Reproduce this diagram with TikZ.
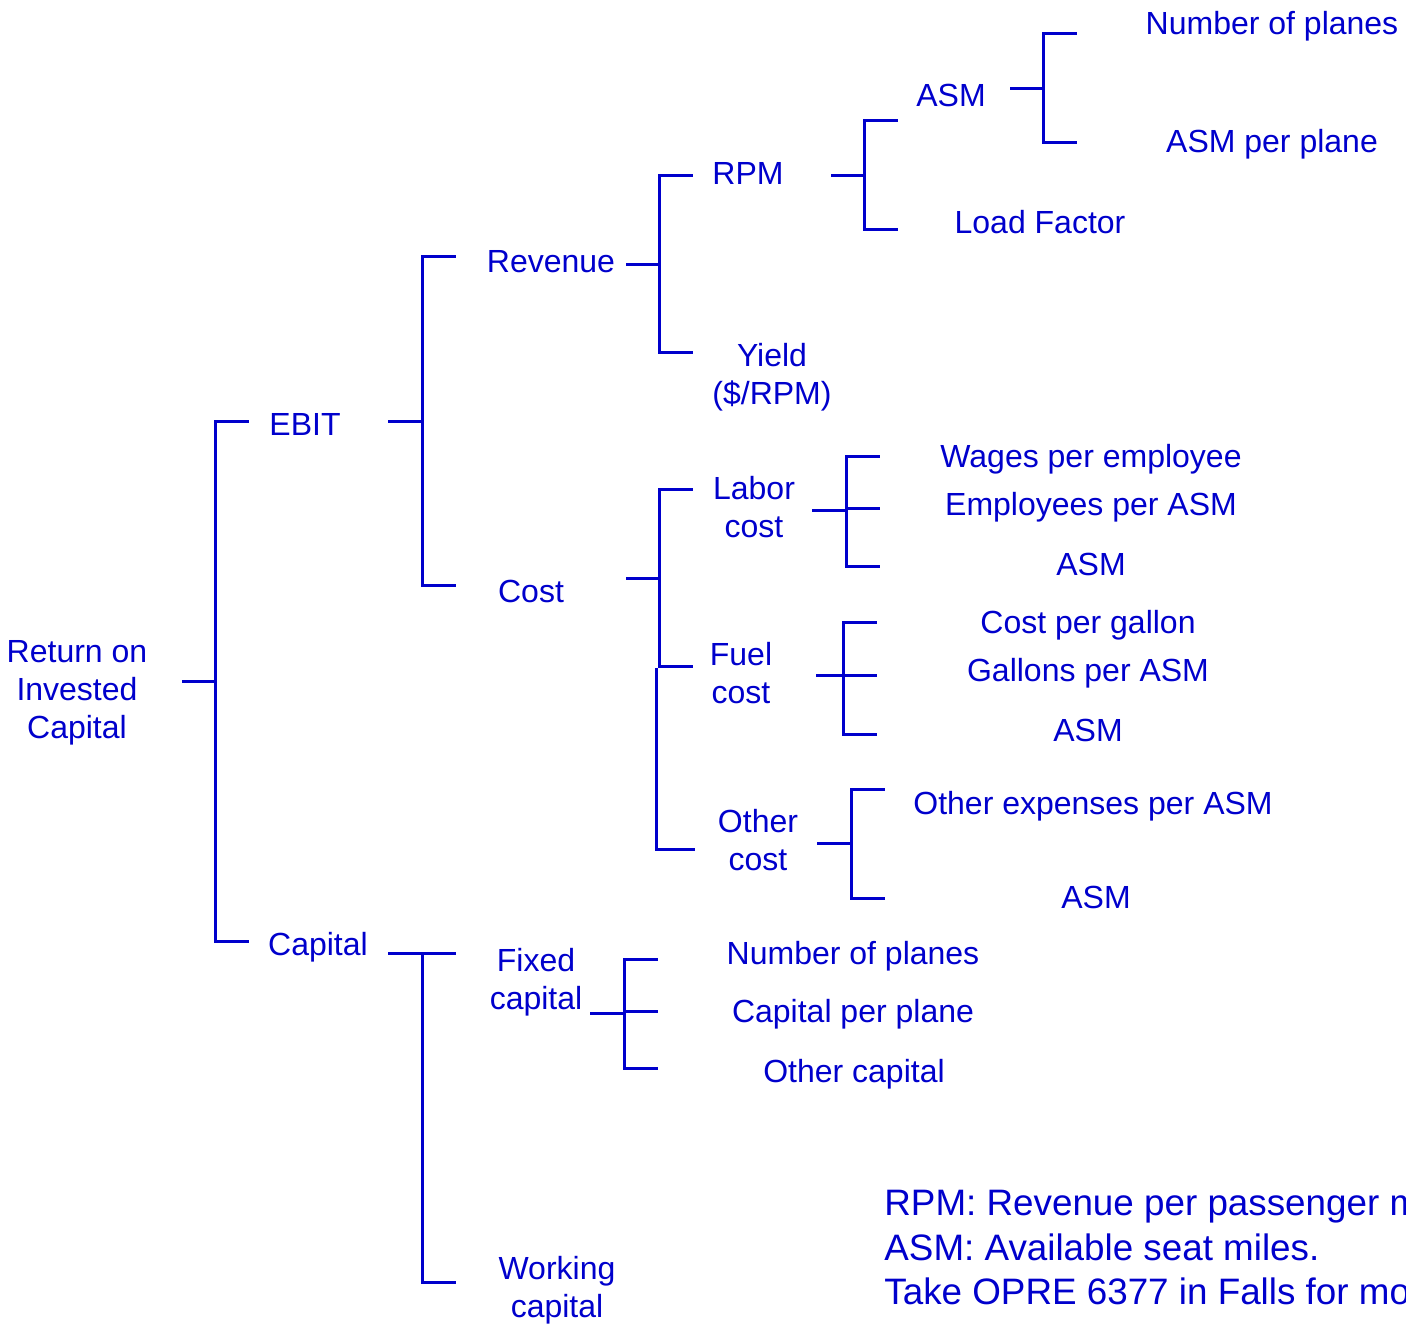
\documentclass[tikz,border=0pt]{standalone}
\usepackage{fontspec}
\setmainfont{Liberation Sans}
\usepackage{tikz}
\definecolor{treeblue}{RGB}{0,0,204}

\begin{document}
\begin{tikzpicture}[x=0.5pt,y=-0.5pt,
  lbl/.style={text=treeblue,align=center,inner sep=0pt,font=\fontsize{16}{19}\selectfont},
  branch/.style={draw=treeblue,line width=1.5pt}]
  \clip (0,0) rectangle (1406,1323);
  % levels 0--2
  \node[lbl] (roic) at (77,693) {Return on\\Invested\\Capital};
  \node[lbl] (ebit) at (305,424) {EBIT};
  \node[lbl] (capital) at (318,947) {Capital};
  \node[lbl] (revenue) at (551,262) {Revenue};
  \node[lbl] (cost) at (531,591) {Cost};
  \node[lbl] (fixed) at (536,982) {Fixed\\capital};
  \node[lbl] (working) at (557,1290) {Working\\capital};
  % revenue side
  \node[lbl] (rpm) at (748,173) {RPM};
  \node[lbl] (yield) at (772,377) {Yield\\(\$/RPM)};
  \node[lbl] (asmA) at (951,95) {ASM};
  \node[lbl] (loadf) at (1040,222) {Load Factor};
  \node[lbl] (planesA) at (1272,26) {Number of planes};
  \node[lbl] (asmpp) at (1272,144) {ASM per plane};
  % cost side
  \node[lbl] (labor) at (754,507) {Labor\\cost};
  \node[lbl] (fuel) at (741,673) {Fuel\\cost};
  \node[lbl] (other) at (758,840) {Other\\cost};
  \node[lbl] (wages) at (1091,459) {Wages per employee};
  \node[lbl] (emppa) at (1091,507) {Employees per ASM};
  \node[lbl] (asmB) at (1091,564) {ASM};
  \node[lbl] (cpg) at (1088,625) {Cost per gallon};
  \node[lbl] (gpa) at (1088,673) {Gallons per ASM};
  \node[lbl] (asmC) at (1088,730) {ASM};
  \node[lbl] (oexp) at (1093,806) {Other expenses per ASM};
  \node[lbl] (asmD) at (1096,897) {ASM};
  % capital side
  \node[lbl] (planesB) at (853,956) {Number of planes};
  \node[lbl] (cpp) at (853,1014) {Capital per plane};
  \node[lbl] (ocap) at (854,1074) {Other capital};
  \node[lbl,font=\fontsize{18.4}{22.3}\selectfont,align=left,anchor=west] (legend) at (884,1247)
    {RPM: Revenue per passenger miles.\\ASM: Available seat miles.\\Take OPRE 6377 in Falls for more.};

  % bracket ends
  \foreach \n/\x/\y in {roic-r/182/681,ebit-l/249/421,cap-l/249/941,
      ebit-r/388/421,rev-l/456/256,cost-l/456/585,
      rev-r/626/264,rpm-l/693/175,yld-l/693/352,
      rpm-r/831/175,asm-l/898/120,lf-l/898/229,
      asm-r/1010/88,np-l/1077/33,app-l/1077/142,
      cost-r/626/578,lab-l/693/489,fuel-l/693/666,oth-l/695/849,
      lab-r/812/510,wag-l/880/456,epa-l/880/508,asmb-l/880/566,
      fuel-r/816/675,cpg-l/877/622,gpa-l/877/675,asmc-l/877/734,
      oth-r/817/843,oex-l/885/789,asmd-l/885/898,
      cap-r/388/953,fix-l/456/953,wrk-l/456/1282,
      fix-r/590/1013,npb-l/658/959,cpp-l/658/1011,ocp-l/658/1068}
    \coordinate (\n) at (\x,\y);

  % brackets
  \foreach \p/\d/\c in {roic-r/33/ebit-l,roic-r/33/cap-l,
      ebit-r/34/rev-l,ebit-r/34/cost-l,
      rev-r/33/rpm-l,rev-r/33/yld-l,
      rpm-r/33/asm-l,rpm-r/33/lf-l,
      asm-r/33/np-l,asm-r/33/app-l,
      cost-r/33/lab-l,cost-r/33/fuel-l,
      lab-r/34/wag-l,lab-r/34/epa-l,lab-r/34/asmb-l,
      fuel-r/27/cpg-l,fuel-r/27/gpa-l,fuel-r/27/asmc-l,
      oth-r/34/oex-l,oth-r/34/asmd-l,
      cap-r/34/fix-l,cap-r/34/wrk-l,
      fix-r/34/npb-l,fix-r/34/cpp-l,fix-r/34/ocp-l}
    \draw[branch] (\p) -- ++(\d,0) |- (\c);
  \draw[branch] (fuel-l) ++(-37,2) |- (oth-l);
\end{tikzpicture}
\end{document}
